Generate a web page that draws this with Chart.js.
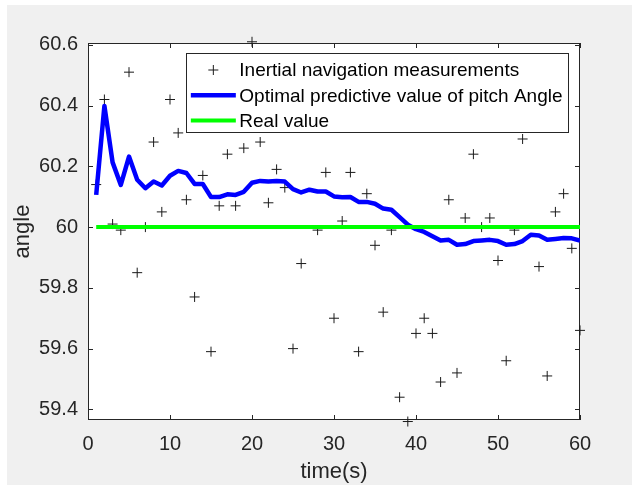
<!DOCTYPE html>
<html>
<head>
<meta charset="utf-8">
<script src="https://cdn.jsdelivr.net/npm/chart.js@4.4.1/dist/chart.umd.min.js"></script>
<style>
  html, body { margin: 0; padding: 0; background: #fff; }
  #wrap { width: 632px; height: 485px; }
</style>
</head>
<body>
<div id="wrap"><canvas id="chart" width="632" height="485"></canvas></div>
<script>
const times = [1, 2, 3, 4, 5, 6, 7, 8, 9, 10, 11, 12, 13, 14, 15, 16, 17, 18, 19, 20,
  21, 22, 23, 24, 25, 26, 27, 28, 29, 30, 31, 32, 33, 34, 35, 36, 37, 38, 39, 40,
  41, 42, 43, 44, 45, 46, 47, 48, 49, 50, 51, 52, 53, 54, 55, 56, 57, 58, 59, 60];

// inertial navigation measurements (black +)
const measured = [60.14, 60.42, 60.01, 59.99, 60.51, 59.85, 60.00, 60.28, 60.05, 60.42,
  60.31, 60.09, 59.77, 60.17, 59.59, 60.07, 60.24, 60.07, 60.26, 60.61,
  60.28, 60.08, 60.19, 60.13, 59.60, 59.88, 60.40, 59.99, 60.18, 59.70,
  60.02, 60.18, 59.59, 60.11, 59.94, 59.72, 59.99, 59.44, 59.36, 59.65,
  59.70, 59.65, 59.49, 60.09, 59.52, 60.03, 60.24, 60.00, 60.03, 59.89,
  59.56, 59.99, 60.29, 60.45, 59.87, 59.51, 60.05, 60.11, 59.93, 59.66];

// optimal predictive value (blue)
const predicted = [60.106, 60.399, 60.213, 60.139, 60.232, 60.156, 60.128, 60.150, 60.137, 60.169,
  60.185, 60.178, 60.142, 60.142, 60.099, 60.099, 60.108, 60.106, 60.116, 60.146,
  60.152, 60.150, 60.152, 60.150, 60.125, 60.114, 60.123, 60.117, 60.117, 60.101,
  60.098, 60.099, 60.083, 60.083, 60.077, 60.061, 60.057, 60.033, 60.008, 59.993,
  59.984, 59.970, 59.956, 59.958, 59.942, 59.944, 59.954, 59.956, 59.958, 59.954,
  59.942, 59.944, 59.954, 59.975, 59.972, 59.958, 59.961, 59.964, 59.963, 59.956];

const realValue = 60;

const xTicks = [0, 10, 20, 30, 40, 50, 60];
const yTicks = [59.4, 59.6, 59.8, 60, 60.2, 60.4, 60.6];

const axisColor = '#262626';
const fontFam = '"Liberation Sans", Arial, sans-serif';

// grey figure background, white axes, box and inward ticks
const frame = {
  id: 'frame',
  beforeDraw(chart) {
    const { ctx, chartArea: a, width, height } = chart;
    ctx.save();
    ctx.fillStyle = '#fff';
    ctx.fillRect(0, 0, width, height);
    ctx.fillStyle = '#f0f0f0';
    ctx.fillRect(7, 5, width - 7, height - 5);
    ctx.fillStyle = '#fff';
    ctx.fillRect(a.left, a.top, a.right - a.left, a.bottom - a.top);
    ctx.restore();
  },
  beforeDatasetsDraw(chart) {
    const { ctx, chartArea: a, scales } = chart;
    ctx.save();
    ctx.strokeStyle = axisColor;
    ctx.lineWidth = 1;
    ctx.strokeRect(a.left + 0.5, a.top + 0.5, a.right - a.left - 1, a.bottom - a.top - 1);
    const len = 5;
    ctx.beginPath();
    scales.x.ticks.forEach(t => {
      const px = Math.round(scales.x.getPixelForValue(t.value)) + 0.5;
      ctx.moveTo(px, a.bottom); ctx.lineTo(px, a.bottom - len);
      ctx.moveTo(px, a.top); ctx.lineTo(px, a.top + len);
    });
    scales.y.ticks.forEach(t => {
      const py = Math.round(scales.y.getPixelForValue(t.value)) + 0.5;
      ctx.moveTo(a.left, py); ctx.lineTo(a.left + len, py);
      ctx.moveTo(a.right, py); ctx.lineTo(a.right - len, py);
    });
    ctx.stroke();
    ctx.restore();
  },
  afterDatasetsDraw(chart) {
    // legend box in the upper right of the axes
    const { ctx, chartArea: a } = chart;
    const sets = chart.data.datasets;
    ctx.save();
    ctx.font = '19px ' + fontFam;
    const textW = Math.max(...sets.map(d => ctx.measureText(d.label).width));
    const w = 53 + textW + 6;
    const h = 79;
    const x0 = a.right - 12 - w;
    const y0 = a.top + 10;
    ctx.fillStyle = '#fff';
    ctx.fillRect(x0, y0, w, h);
    ctx.strokeStyle = axisColor;
    ctx.lineWidth = 1;
    ctx.strokeRect(Math.round(x0) + 0.5, Math.round(y0) + 0.5, Math.round(w), Math.round(h));
    sets.forEach((d, i) => {
      const cy = y0 + 17 + i * 25.3;
      if (d.showLine === false) {
        ctx.strokeStyle = d.borderColor;
        ctx.lineWidth = 1;
        ctx.beginPath();
        ctx.moveTo(x0 + 27.5 - 5, cy); ctx.lineTo(x0 + 27.5 + 5, cy);
        ctx.moveTo(x0 + 27.5, cy - 5); ctx.lineTo(x0 + 27.5, cy + 5);
        ctx.stroke();
      } else {
        ctx.strokeStyle = d.borderColor;
        ctx.lineWidth = d.borderWidth;
        ctx.beginPath();
        ctx.moveTo(x0 + 5, cy); ctx.lineTo(x0 + 50, cy);
        ctx.stroke();
      }
      ctx.fillStyle = '#000';
      ctx.textBaseline = 'middle';
      ctx.textAlign = 'left';
      ctx.fillText(d.label, x0 + 53.5, cy + 1);
    });
    ctx.restore();
  }
};

new Chart(document.getElementById('chart').getContext('2d'), {
  type: 'line',
  data: {
    datasets: [
      {
        label: 'Inertial navigation measurements',
        data: times.map((t, i) => ({ x: t, y: measured[i] })),
        showLine: false,
        pointStyle: 'cross',
        pointRadius: 5,
        pointBorderWidth: 1,
        borderColor: '#1a1a1a',
        backgroundColor: '#1a1a1a',
        clip: false,
        order: 3
      },
      {
        label: 'Optimal predictive value of pitch Angle',
        data: times.map((t, i) => ({ x: t, y: predicted[i] })),
        borderColor: '#0000ff',
        borderWidth: 4.5,
        borderJoinStyle: 'round',
        pointRadius: 0,
        tension: 0,
        order: 2
      },
      {
        label: 'Real value',
        data: times.map(t => ({ x: t, y: realValue })),
        borderColor: '#00ff00',
        borderWidth: 4,
        pointRadius: 0,
        tension: 0,
        order: 1
      }
    ]
  },
  options: {
    responsive: false,
    animation: false,
    events: [],
    layout: { padding: { top: 43, right: 52, left: 0, bottom: 0 } },
    plugins: { legend: { display: false }, tooltip: { enabled: false } },
    scales: {
      x: {
        type: 'linear',
        min: 0,
        max: 60,
        afterBuildTicks: s => { s.ticks = xTicks.map(v => ({ value: v })); },
        afterFit: s => { s.height = 65; },
        grid: { display: false, drawTicks: false },
        border: { display: false },
        ticks: {
          color: axisColor,
          font: { family: fontFam, size: 20 },
          padding: 12,
          maxRotation: 0,
          callback: v => String(v)
        },
        title: {
          display: true,
          text: 'time(s)',
          color: axisColor,
          font: { family: fontFam, size: 22 },
          padding: { top: 0, bottom: 0 }
        }
      },
      y: {
        type: 'linear',
        min: 59.365,
        max: 60.606,
        afterBuildTicks: s => { s.ticks = yTicks.map(v => ({ value: v })); },
        afterFit: s => { s.width = 88; },
        grid: { display: false, drawTicks: false },
        border: { display: false },
        ticks: {
          color: axisColor,
          font: { family: fontFam, size: 20 },
          padding: 10,
          callback: v => String(Math.round(v * 10) / 10)
        },
        title: {
          display: true,
          text: 'angle',
          color: axisColor,
          font: { family: fontFam, size: 22 },
          padding: { top: 10, bottom: 0 }
        }
      }
    }
  },
  plugins: [frame]
});
</script>
</body>
</html>
